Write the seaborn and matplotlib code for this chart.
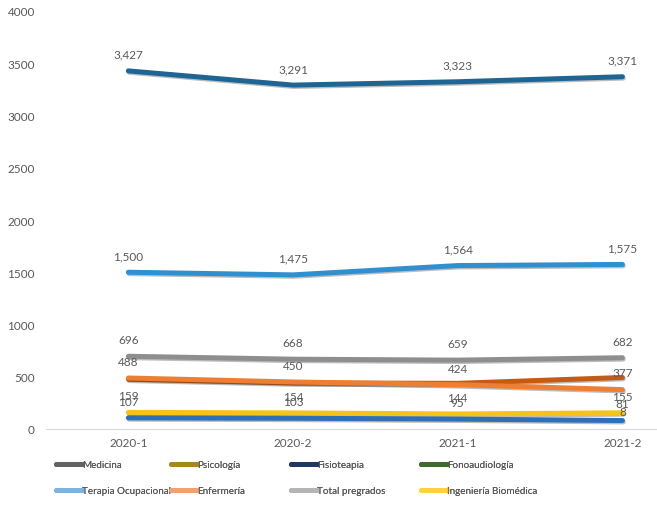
import numpy as np
import pandas as pd
import matplotlib
matplotlib.use("Agg")
import matplotlib.pyplot as plt
import matplotlib.patheffects as pe
from matplotlib.lines import Line2D
import seaborn as sns

# --- Data ---
periods = ["2020-1", "2020-2", "2021-1", "2021-2"]
medicina = [1500, 1475, 1564, 1575]
psicologia = [696, 668, 659, 682]
fisioteapia = [107, 103, 95, 81]
fonoaudiologia = [159, 154, 144, 155]
terapia_ocupacional = [477, 441, 437, 493]
enfermeria = [488, 450, 424, 377]
total_pregrados = [3427, 3291, 3323, 3371]
ing_biomedica = [np.nan, np.nan, np.nan, 8]

series = {
    "Medicina": medicina,
    "Psicología": psicologia,
    "Fisioteapia": fisioteapia,
    "Fonoaudiología": fonoaudiologia,
    "Terapia Ocupacional": terapia_ocupacional,
    "Enfermería": enfermeria,
    "Total pregrados": total_pregrados,
    "Ingeniería Biomédica": ing_biomedica,
}
# series without a visible label in the picture
unlabeled = ["Terapia Ocupacional"]

rows = []
for name, vals in series.items():
    for i, v in enumerate(vals):
        rows.append({"serie": name, "x": i, "periodo": periods[i], "valor": v})
df = pd.DataFrame(rows)

# colours as the lines look in the picture
line_colors = {
    "Medicina": "#2F8FCF",
    "Psicología": "#8E8E8E",
    "Fisioteapia": "#2E6FB5",
    "Fonoaudiología": "#F7C21A",
    "Terapia Ocupacional": "#C65A12",
    "Enfermería": "#EE7E33",
    "Total pregrados": "#1E6594",
    "Ingeniería Biomédica": "#FFC000",
}
# colours as the legend keys look
legend_colors = {
    "Medicina": "#636363",
    "Psicología": "#A8881A",
    "Fisioteapia": "#1F3864",
    "Fonoaudiología": "#3F6B2C",
    "Terapia Ocupacional": "#7DB3E0",
    "Enfermería": "#F2A070",
    "Total pregrados": "#B5B5B5",
    "Ingeniería Biomédica": "#FFD23A",
}

sns.set_theme(style="white")
plt.rcParams["font.family"] = ["Lato", "DejaVu Sans"]
text_gray = "#595959"

fig = plt.figure(figsize=(6.57, 5.10), dpi=100)
ax = fig.add_axes([46 / 657, 80 / 510, 611 / 657, 418 / 510])

draw_order = ["Psicología", "Terapia Ocupacional", "Enfermería", "Fonoaudiología",
              "Fisioteapia", "Medicina", "Total pregrados", "Ingeniería Biomédica"]
for name in draw_order:
    sub = df[df["serie"] == name]
    sns.lineplot(data=sub, x="x", y="valor", color=line_colors[name], linewidth=3.6,
                 ax=ax, legend=False, solid_capstyle="round")
for ln in ax.get_lines():
    ln.set_path_effects([pe.SimpleLineShadow(offset=(0.6, -1.0), shadow_color="#222222", alpha=0.3),
                         pe.Normal()])

for name, vals in series.items():
    if name in unlabeled:
        continue
    for i, v in enumerate(vals):
        if np.isnan(v):
            continue
        ax.annotate(f"{v:,.0f}", (i, v), xytext=(0, 8), textcoords="offset points",
                    ha="center", va="bottom", fontsize=8.5, color=text_gray)

ax.set_xlim(-0.5, 3.21)
ax.set_ylim(0, 4000)
ax.set_xticks(range(len(periods)))
ax.set_xticklabels(periods)
ax.set_yticks(range(0, 4001, 500))
ax.tick_params(axis="both", labelsize=8.5, colors=text_gray, length=0)
ax.tick_params(axis="y", pad=8)
ax.tick_params(axis="x", pad=6)
ax.set_xlabel("")
ax.set_ylabel("")
for side in ["top", "right", "left"]:
    ax.spines[side].set_visible(False)
ax.spines["bottom"].set_color("#D9D9D9")
ax.spines["bottom"].set_linewidth(0.8)

# legend: 4 equal columns, 2 rows, filled row by row like the original
names = list(series.keys())
col_x = [54, 169, 289, 419]
for c, x0 in enumerate(col_x):
    col_names = [names[c], names[c + 4]]
    handles = [Line2D([], [], color=legend_colors[n], linewidth=3.6) for n in col_names]
    leg = fig.legend(handles, col_names, loc="upper left",
                     bbox_to_anchor=(x0 / 657, 1 - 459 / 510), frameon=False,
                     fontsize=7.1, handlelength=2.6, handletextpad=0.05,
                     labelspacing=1.75, borderaxespad=0, borderpad=0.2)
    for t in leg.get_texts():
        t.set_color(text_gray)
    fig.add_artist(leg)

fig.savefig("out.png", dpi=100)
